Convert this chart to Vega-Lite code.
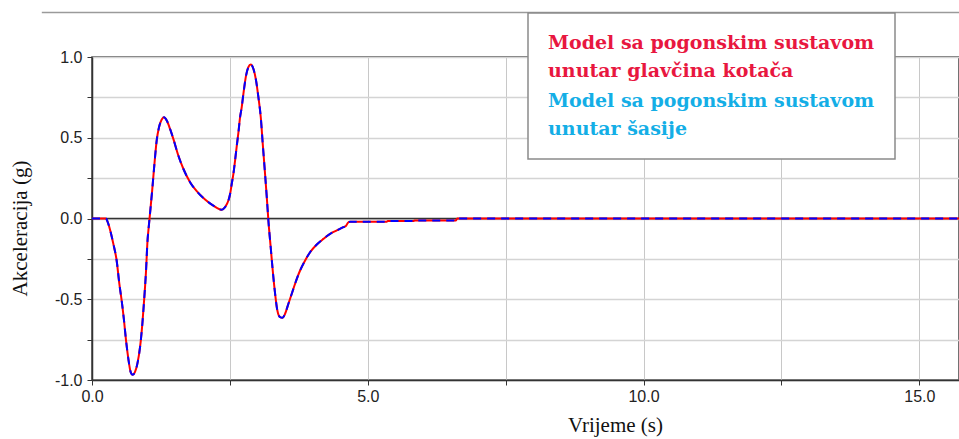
{
  "$schema": "https://vega.github.io/schema/vega-lite/v6.json",
  "width": 867,
  "height": 323,
  "autosize": {"type": "none"},
  "padding": {"left": 92, "top": 57, "right": 0, "bottom": 59},
  "background": "white",
  "config": {
    "view": {"stroke": "#444444", "strokeWidth": 1.5}
  },
  "data": {
    "values": [
      {"t": 0, "a": 0}, {"t": 0.25, "a": 0}, {"t": 0.296, "a": -0.033}, {"t": 0.387, "a": -0.157},
      {"t": 0.447, "a": -0.26}, {"t": 0.496, "a": -0.405}, {"t": 0.538, "a": -0.508}, {"t": 0.58, "a": -0.63},
      {"t": 0.617, "a": -0.755}, {"t": 0.659, "a": -0.869}, {"t": 0.7, "a": -0.95}, {"t": 0.738, "a": -0.968},
      {"t": 0.78, "a": -0.95}, {"t": 0.822, "a": -0.9}, {"t": 0.871, "a": -0.797}, {"t": 0.913, "a": -0.652},
      {"t": 0.949, "a": -0.487}, {"t": 0.98, "a": -0.322}, {"t": 1.003, "a": -0.157}, {"t": 1.034, "a": -0.033},
      {"t": 1.06, "a": 0.06}, {"t": 1.09, "a": 0.17}, {"t": 1.115, "a": 0.27}, {"t": 1.143, "a": 0.38},
      {"t": 1.173, "a": 0.483}, {"t": 1.215, "a": 0.565}, {"t": 1.264, "a": 0.613}, {"t": 1.306, "a": 0.627},
      {"t": 1.355, "a": 0.607}, {"t": 1.415, "a": 0.555}, {"t": 1.475, "a": 0.493}, {"t": 1.565, "a": 0.39},
      {"t": 1.656, "a": 0.308}, {"t": 1.778, "a": 0.225}, {"t": 1.899, "a": 0.169}, {"t": 2.05, "a": 0.118},
      {"t": 2.2, "a": 0.08}, {"t": 2.352, "a": 0.054}, {"t": 2.412, "a": 0.07}, {"t": 2.473, "a": 0.111},
      {"t": 2.503, "a": 0.15}, {"t": 2.534, "a": 0.215}, {"t": 2.563, "a": 0.275}, {"t": 2.594, "a": 0.359},
      {"t": 2.625, "a": 0.45}, {"t": 2.654, "a": 0.53}, {"t": 2.685, "a": 0.627}, {"t": 2.715, "a": 0.69},
      {"t": 2.745, "a": 0.772}, {"t": 2.793, "a": 0.885}, {"t": 2.835, "a": 0.937}, {"t": 2.878, "a": 0.954},
      {"t": 2.926, "a": 0.927}, {"t": 2.975, "a": 0.854}, {"t": 3.017, "a": 0.751}, {"t": 3.06, "a": 0.627},
      {"t": 3.096, "a": 0.462}, {"t": 3.133, "a": 0.297}, {"t": 3.169, "a": 0.132}, {"t": 3.198, "a": -0.012},
      {"t": 3.24, "a": -0.178}, {"t": 3.277, "a": -0.322}, {"t": 3.32, "a": -0.466}, {"t": 3.361, "a": -0.57},
      {"t": 3.41, "a": -0.611}, {"t": 3.452, "a": -0.615}, {"t": 3.501, "a": -0.59}, {"t": 3.561, "a": -0.528},
      {"t": 3.622, "a": -0.466}, {"t": 3.682, "a": -0.404}, {"t": 3.773, "a": -0.322}, {"t": 3.864, "a": -0.26},
      {"t": 3.954, "a": -0.209}, {"t": 4.076, "a": -0.161}, {"t": 4.196, "a": -0.126}, {"t": 4.317, "a": -0.095},
      {"t": 4.438, "a": -0.074}, {"t": 4.558, "a": -0.054}, {"t": 4.607, "a": -0.045}, {"t": 4.638, "a": -0.027},
      {"t": 4.68, "a": -0.02}, {"t": 5.345, "a": -0.02}, {"t": 5.36, "a": -0.016}, {"t": 5.83, "a": -0.016},
      {"t": 5.845, "a": -0.012}, {"t": 6.6, "a": -0.012}, {"t": 6.62, "a": 0}, {"t": 15.72, "a": 0}
    ]
  },
  "layer": [
    {
      "data": {"values": [{}]},
      "mark": {"type": "rule", "color": "#9a9a9a", "strokeWidth": 1.5, "clip": false},
      "encoding": {
        "x": {"datum": -0.91, "type": "quantitative"},
        "x2": {"datum": 16},
        "y": {"datum": 1.2755, "type": "quantitative"}
      }
    },
    {
      "data": {"values": [{}]},
      "mark": {"type": "rule", "color": "#333333", "strokeWidth": 1.5},
      "encoding": {
        "y": {"datum": 0, "type": "quantitative"}
      }
    },
    {
      "mark": {"type": "line", "strokeWidth": 2, "clip": true, "interpolate": "monotone"},
      "encoding": {
        "x": {
          "field": "t", "type": "quantitative",
          "scale": {"domain": [0, 15.72], "nice": false, "zero": false},
          "axis": {
            "values": [0, 2.5, 5, 7.5, 10, 12.5, 15],
            "labelExpr": "datum.value % 5 == 0 ? format(datum.value, '.1f') : ''",
            "labelFlush": false,
            "labelOverlap": false,
            "grid": true, "gridColor": "#c8c8c8", "gridWidth": 1,
            "domainColor": "#333333", "domainWidth": 1.5,
            "tickColor": "#333333", "tickSize": 5, "tickWidth": 1,
            "labelFont": "Liberation Sans", "labelFontSize": 16, "labelColor": "#222222", "labelPadding": 3,
            "title": "Vrijeme (s)",
            "titleFont": "Liberation Serif", "titleFontSize": 21, "titleFontWeight": "normal", "titleColor": "#111111",
            "titleX": 523, "titleY": 34, "titleAlign": "center", "titleBaseline": "top"
          }
        },
        "y": {
          "field": "a", "type": "quantitative",
          "scale": {"domain": [-1, 1], "nice": false, "zero": false},
          "axis": {
            "values": [-1, -0.75, -0.5, -0.25, 0, 0.25, 0.5, 0.75, 1],
            "labelExpr": "datum.value % 0.5 == 0 ? replace(format(datum.value, '.1f'), '\u2212', '-') : ''",
            "labelFlush": false,
            "labelOverlap": false,
            "grid": true, "gridColor": "#d4d4d4", "gridWidth": 1.5,
            "domainColor": "#333333", "domainWidth": 1.5,
            "tickColor": "#333333", "tickSize": 5, "tickWidth": 1,
            "labelFont": "Liberation Sans", "labelFontSize": 16, "labelColor": "#222222", "labelPadding": 5,
            "title": "Akceleracija (g)",
            "titleFont": "Liberation Serif", "titleFontSize": 21, "titleFontWeight": "normal", "titleColor": "#111111",
            "titleAngle": -90, "titleX": -72, "titleY": 171, "titleAlign": "center", "titleBaseline": "middle"
          }
        },
        "color": {
          "datum": "wheel", "type": "nominal",
          "scale": {"domain": ["wheel", "chassis"], "range": ["#ff0000", "#0000ff"]},
          "legend": {
            "orient": "none", "legendX": 436, "legendY": -44,
            "title": null,
            "padding": 20,
            "strokeColor": "#8a8a8a", "fillColor": "white",
            "symbolOpacity": 0, "symbolSize": 0, "symbolStrokeWidth": 0,
            "labelOffset": -19,
            "labelFont": "DejaVu Serif", "labelFontWeight": "bold", "labelFontSize": 19,
            "labelLimit": 2000,
            "rowPadding": 10,
            "labelExpr": "datum.value == 'wheel' ? ['Model sa pogonskim sustavom', 'unutar glavčina kotača'] : ['Model sa pogonskim sustavom', 'unutar šasije']",
            "encode": {
              "legend": {"update": {"strokeWidth": {"value": 1.5}}},
              "labels": {
                "update": {
                  "fill": {"signal": "datum.value == 'wheel' ? '#e8173f' : '#14aee6'"},
                  "lineHeight": {"value": 28}
                }
              }
            }
          }
        }
      }
    },
    {
      "mark": {"type": "line", "strokeWidth": 2, "strokeDash": [8, 6], "clip": true, "interpolate": "monotone"},
      "encoding": {
        "x": {"field": "t", "type": "quantitative"},
        "y": {"field": "a", "type": "quantitative"},
        "color": {"datum": "chassis", "type": "nominal"}
      }
    }
  ]
}
